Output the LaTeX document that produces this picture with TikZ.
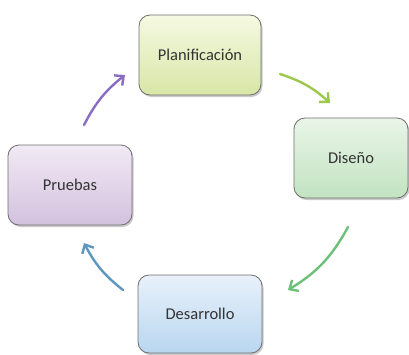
\documentclass[tikz,border=0pt]{standalone}
\usepackage{fontspec}
\setmainfont{Carlito}
\usetikzlibrary{shadows,arrows.meta}
\definecolor{planT}{HTML}{F5F9E2}\definecolor{planB}{HTML}{D8E6A6}
\definecolor{disT}{HTML}{E9F5E8}\definecolor{disB}{HTML}{C2E3C0}
\definecolor{pruT}{HTML}{F1E9F4}\definecolor{pruB}{HTML}{D3C1DE}
\definecolor{desT}{HTML}{E8F1FA}\definecolor{desB}{HTML}{B9D6F0}
\definecolor{aGreenY}{HTML}{9CC84E}
\definecolor{aGreen}{HTML}{6CC07A}
\definecolor{aBlue}{HTML}{5E97BE}
\definecolor{aPurple}{HTML}{8A6CC2}
\definecolor{edge}{HTML}{6E6E6E}
\tikzset{
  box/.style={draw=edge, line width=0.8pt, rounded corners=11pt, minimum width=122pt, minimum height=80pt, font=\fontsize{16.5}{19}\selectfont, text=black!80, drop shadow={shadow xshift=1.5pt, shadow yshift=-2pt, opacity=0.35, fill=black!60}},
  cyc/.style={line width=2.4pt, line cap=round, -{Straight Barb[length=7pt, width=13pt, line width=2.4pt]}}
}
\begin{document}
\begin{tikzpicture}[x=1pt,y=-1pt]
\useasboundingbox (0,0) rectangle (409,354);
\node[box, top color=planT, bottom color=planB] (plan) at (200,55) {Planificación};
\node[box, top color=disT, bottom color=disB, minimum width=114pt] (dis) at (351,158) {Diseño};
\node[box, top color=pruT, bottom color=pruB, minimum width=124pt] (pru) at (70,185) {Pruebas};
\node[box, top color=desT, bottom color=desB, minimum width=124pt, minimum height=78pt] (des) at (200,314) {Desarrollo};
\coordinate (a1s) at (280,74); \coordinate (a1e) at (330,103);
\coordinate (a2s) at (348,227); \coordinate (a2e) at (288,290);
\coordinate (a3s) at (123,290); \coordinate (a3e) at (84,243);
\coordinate (a4s) at (84,125); \coordinate (a4e) at (125,75);
\draw[cyc, color=aGreenY] (a1s) to[bend left=12] (a1e);
\draw[cyc, color=aGreen] (a2s) to[bend left=15] (a2e);
\draw[cyc, color=aBlue] (a3s) to[bend left=12] (a3e);
\draw[cyc, color=aPurple] (a4s) to[bend left=12] (a4e);
\end{tikzpicture}
\end{document}
